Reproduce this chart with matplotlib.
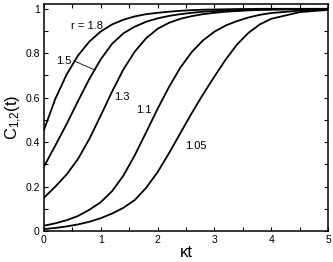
import matplotlib
matplotlib.use("Agg")
import matplotlib.pyplot as plt
from matplotlib.ticker import MultipleLocator

plt.rcParams['font.family'] = ['Liberation Sans', 'DejaVu Sans']
plt.rcParams['mathtext.default'] = 'regular'

# kappa*t sample points
t = [0, 0.2, 0.4, 0.6, 0.8, 1.0, 1.2, 1.4, 1.6, 1.8, 2.0, 2.2, 2.4, 2.6,
     2.8, 3.0, 3.2, 3.4, 3.6, 3.8, 4.0, 4.5, 5.0]

c_18 = [0.455, 0.595, 0.705, 0.79, 0.853, 0.898, 0.93, 0.951, 0.966, 0.976,
        0.982, 0.987, 0.991, 0.994, 0.996, 0.997, 0.998, 0.999, 0.999, 1.0,
        1.0, 1.0, 1.0]
c_15 = [0.29, 0.385, 0.482, 0.585, 0.685, 0.773, 0.843, 0.89, 0.92, 0.942,
        0.957, 0.968, 0.976, 0.982, 0.987, 0.99, 0.992, 0.994, 0.996, 0.997,
        0.998, 0.999, 1.0]
c_13 = [0.15, 0.2, 0.255, 0.325, 0.415, 0.52, 0.628, 0.728, 0.808, 0.868,
        0.91, 0.937, 0.955, 0.967, 0.976, 0.982, 0.987, 0.99, 0.993, 0.995,
        0.996, 0.998, 0.999]
c_11 = [0.024, 0.035, 0.049, 0.068, 0.096, 0.13, 0.18, 0.25, 0.342, 0.445,
        0.55, 0.648, 0.735, 0.805, 0.858, 0.897, 0.925, 0.945, 0.961, 0.973,
        0.981, 0.992, 0.997]
c_105 = [0.009, 0.014, 0.021, 0.03, 0.042, 0.058, 0.079, 0.105, 0.14, 0.195,
         0.265, 0.35, 0.44, 0.53, 0.615, 0.695, 0.772, 0.84, 0.892, 0.93,
         0.955, 0.985, 0.995]

fig = plt.figure(figsize=(3.33, 2.62), dpi=100)
ax = fig.add_axes([0.132, 0.118, 0.853, 0.867])

for c in [c_18, c_15, c_13, c_11, c_105]:
    ax.plot(t, c, color='black', lw=1.3)

ax.set_xlim(0, 5)
ax.set_ylim(0, 1.022)

ax.xaxis.set_major_locator(MultipleLocator(1))
ax.xaxis.set_minor_locator(MultipleLocator(0.5))
ax.yaxis.set_minor_locator(MultipleLocator(0.1))
ax.set_yticks([0, 0.2, 0.4, 0.6, 0.8, 1.0])
ax.set_yticklabels(['0', '0.2', '0.4', '0.6', '0.8', '1'])
ax.tick_params(which='both', direction='in', top=True, right=True,
               length=2.6, width=0.8, labelsize=7.5, pad=3)
for s in ax.spines.values():
    s.set_linewidth(1.1)

ax.set_xlabel('κt', fontsize=12, labelpad=0)
ax.set_ylabel('C$_{1{,}2}$(t)', fontsize=12, labelpad=1)

ax.text(0.754, 0.923, 'r = 1.8', fontsize=8, ha='center', va='center')
ax.text(0.351, 0.766, '1.5', fontsize=8, ha='center', va='center')
ax.plot([0.526, 0.895], [0.766, 0.725], color='black', lw=0.6)
ax.text(1.368, 0.604, '1.3', fontsize=8, ha='center', va='center')
ax.text(1.754, 0.545, '1.1', fontsize=8, ha='center', va='center')
ax.text(2.667, 0.383, '1.05', fontsize=8, ha='center', va='center')

fig.savefig('out.png', dpi=100)
